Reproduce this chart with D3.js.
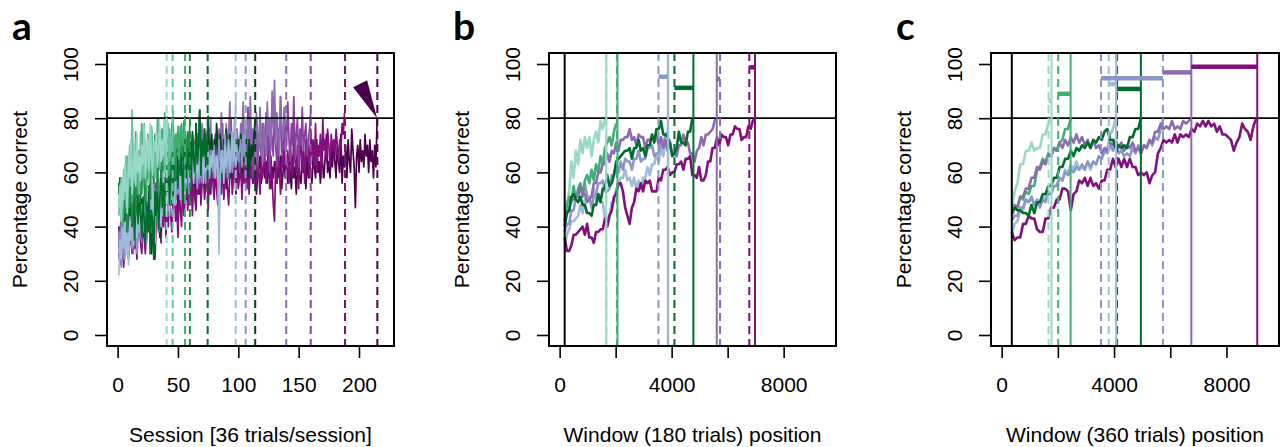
<!DOCTYPE html>
<html><head><meta charset="utf-8">
<script src="https://cdn.jsdelivr.net/npm/d3@7"></script>
<style>body{margin:0;background:#fff}</style></head>
<body>
<svg id="chart" width="1288" height="447"></svg>
<script>
// ---------- shared axis data ----------
const yTicks = [0, 20, 40, 60, 80, 100];
const criterion = 80;
const aTicksX = [0, 50, 100, 150, 200];
const bcTicksX = [0, 2000, 4000, 6000, 8000];
const bcLabelsX = [0, 4000, 8000];
const panelLetters = ["a", "b", "c"];
const xTitles = ["Session [36 trials/session]", "Window (180 trials) position", "Window (360 trials) position"];
const yTitle = "Percentage correct";

// ---------- panel a: percentage correct per session (session 1..N) ----------
const aLightTeal = [47,55,42,58,50,63,54,45,66,58,72,52,61,68,55,74,60,66,57,70,63,76,58,67,72,61,78,65,59,71,68,75,62,69,77,64,72,66,80,70,81];
const aTeal = [44,52,58,47,61,53,66,49,58,70,55,83,62,57,72,60,68,52,75,64,58,78,66,61,73,56,69,77,63,70,58,74,67,80,62,71,65,76,60,72,68,78,64,74,70,83];
const aGreen = [50,45,56,40,52,60,47,66,54,58,72,49,63,56,75,60,52,68,64,78,57,70,62,55,74,66,60,77,69,63,72,58,80,67,61,75,70,64,82,68,73,59,76,66,71,80,63,74,69,77,65,72,78,70,75,81];
const aMidGreen = [56,48,52,42,58,45,50,38,55,47,62,41,53,60,44,57,66,49,61,52,70,55,47,64,58,72,51,66,60,56,74,62,53,69,65,58,76,61,70,64,57,72,67,60,78,65,71,58,74,68,63,77,70,66,79,72,64,75,69,80];
const aDarkGreen = [52,58,46,55,49,42,56,38,50,44,57,40,52,35,48,54,41,58,45,36,51,43,33,49,38,55,30,46,42,28,53,44,58,39,50,62,47,56,44,60,53,66,48,58,63,51,69,57,62,54,72,59,66,50,64,75,58,68,61,71,56,74,65,60,78,63,70,83,59,72,66,76,62,70,81];
const aLightBlue = [22,35,28,40,32,45,30,38,26,42,35,48,33,40,45,36,50,38,44,48,40,52,36,46,55,42,50,38,56,46,34,52,44,58,48,40,54,62,46,56,50,60,44,56,62,52,48,64,58,54,66,50,60,56,64,52,58,68,60,54,62,66,56,70,60,64,58,68,62,72,56,66,60,64,70,58,66,62,68,64,58,66,62,30,60,68,64,56,70,62,66,72,60,68,75,64,70,88];
const aLavender = [30,38,25,42,34,28,40,36,30,44,38,32,46,36,40,30,48,42,36,44,38,46,40,34,50,42,48,38,52,44,40,54,46,38,50,56,44,52,48,58,52,46,56,60,50,54,62,48,58,52,60,56,50,64,58,54,62,66,52,60,56,64,58,62,68,54,60,66,58,64,70,60,56,66,62,58,68,64,60,70,62,66,58,72,64,60,68,62,74,66,58,70,64,68,60,72,66,62,70,64,68,72,62,74,66,80];
const aDeepGreen = [52,58,45,56,50,58,42,55,48,38,52,45,58,40,50,36,48,55,42,50,44,38,52,35,47,40,55,30,45,28,50,42,58,48,36,55,62,45,58,50,64,52,48,60,55,70,52,62,58,66,54,72,60,56,70,64,52,74,62,68,58,75,66,62,78,60,70,83,64,72,58,76,68,62,80,66,70,74,60,72,64,78,70,62,74,68,58,72,66,76,62,70,74,58,68,64,75,70,62,72,66,74,60,70,64,76,68,58,72,62,70,66,74,80];
const aPurple = [38,30,45,34,28,42,36,48,32,40,35,46,30,44,38,50,36,42,47,34,45,40,52,37,48,55,42,50,46,58,40,53,48,44,56,50,60,45,54,48,58,52,47,62,55,50,65,57,52,60,68,54,62,58,66,50,64,70,56,62,68,58,72,64,60,74,66,56,70,78,62,68,74,60,72,66,80,64,70,58,74,68,62,76,70,82,64,72,60,78,68,74,86,66,72,62,80,70,76,68,64,78,72,86,68,74,62,80,70,88,66,76,72,60,82,74,68,84,70,64,78,72,66,86,74,80,68,90,76,94,70,82,74,66,88,76,72,84,78,80];
const aViolet = [32,40,28,44,36,30,46,38,34,42,48,36,40,33,50,44,38,46,52,40,48,42,55,38,50,46,58,44,52,40,56,48,60,46,54,50,62,48,56,52,60,54,48,64,56,62,52,66,58,54,68,60,56,64,70,58,62,54,66,60,72,58,64,68,56,74,62,66,60,70,64,58,72,66,62,76,64,70,58,68,74,62,68,56,72,64,78,60,70,66,74,58,68,80,64,72,62,76,66,70,60,74,68,78,62,72,66,84,70,64,76,58,72,68,80,62,74,70,66,78,70,64,82,68,74,60,78,72,66,84,70,62,76,72,88,66,74,68,80,70,86,72,64,78,70,88,66,74,80,62,76,70,84,68,74,78,66,72,76,82];
const aMagenta = [30,26,38,32,25,36,30,42,28,34,38,30,44,32,36,28,40,46,34,30,42,36,30,44,38,48,33,40,36,46,28,42,50,38,44,34,48,40,54,36,46,40,52,44,38,50,56,42,48,36,54,46,40,58,44,50,62,46,52,48,56,44,60,50,46,58,52,64,48,56,60,50,54,62,46,58,52,66,56,50,60,54,48,62,56,52,66,50,58,62,54,48,60,64,52,58,68,56,62,54,58,64,50,62,56,68,54,60,52,66,58,62,56,70,54,64,60,52,66,58,62,68,56,60,72,54,66,58,48,42,64,56,70,60,52,66,62,74,58,64,68,56,72,62,58,76,64,60,70,54,66,74,60,68,56,72,64,70,58,76,66,72,62,78,60,70,66,74,58,80,68,72,64,76,70,62,74,68,72,66,76,70,64,72,68,78,74,82];
const aPlum = [40,34,46,30,38,44,36,42,32,48,38,44,36,40,46,34,50,42,38,46,44,50,38,48,42,54,40,46,52,44,48,56,42,50,46,54,48,44,52,58,50,46,56,52,48,58,54,50,60,46,56,52,62,48,58,54,50,60,56,52,62,54,58,50,60,64,56,52,62,58,66,54,60,56,64,58,52,62,68,56,60,66,54,62,58,64,56,68,60,54,64,58,62,66,56,60,64,52,62,58,66,60,56,64,58,62,54,60,66,58,62,56,64,60,52,58,62,66,56,60,62,58,64,56,60,66,54,62,58,64,60,56,62,58,66,54,60,64,58,62,56,64,60,54,66,58,62,52,60,64,58,56,66,60,62,54,68,58,64,60,56,66,62,58,72,60,64,56,70,62,58,66,74,60,64,58,68,62,72,64,58,70,64,60,74,56,66,62,70,58,72,64,60,76,68,62,47,66,70,60,72,64,68,62,74,66,70,60,72,64,68,58,70,62,80];
// draw order (bottom first) and dashed end-of-series markers (session)
const aSeries = [aPlum, aMagenta, aViolet, aPurple, aDeepGreen, aLavender, aLightBlue, aDarkGreen, aMidGreen, aGreen, aTeal, aLightTeal];
const aDashed = [215.2, 188.4, 160, 139.7, 114, 106.1, 97.8, 74.6, 59.9, 55.8, 45.6, 40.6];
const aArrowTip = [215, 80];

// ---------- panel b: 180-trial moving window ----------
const bStart = 180, bStep = 80;
const bTeal = [40,47,53,64,58,68,63,72,67,73,69,73,66,72,75,71,79,76,80,80];
const bGreen = [42,48,51,49,55,50,54,56,51,57,59,56,61,57,63,60,66,63,69,71,73,70,75,78];
const bDarkGreen = [40,45,46,51,52,50,49,51,48,48,45,45,44,48,48,52,49,54,54,59,55,56,59,64,65,66,67,68,68,69,65,69,69,72,68,69,66,70,70,74,71,76,76,79,74,74,73,71,66,67,69,75,71,71,70,75,75,80];
const bLightBlue = [33,37,39,42,42,43,44,48,45,50,50,51,51,54,50,50,49,49,43,43,44,49,49,54,55,58,58,61,57,58,55,58,54,57,54,58,58,62,59,63,63,67,64,69,66,71,72];
const bLavender = [38,41,41,46,46,51,51,55,52,56,51,51,47,51,52,56,56,57,53,53,54,59,59,63,60,64,61,65,64,64,61,65,65,68,64,65,65,69,69,70,66,67,67,71,70,74,75];
const bPurple = [42,45,46,50,50,51,51,55,52,52,49,50,51,56,56,60,60,63,63,67,64,68,67,71,68,72,72,73,73,76,72,73,70,74,73,73,69,72,72,73,73,74,70,73,69,72,68,71,67,67,66,70,70,74,71,71,67,67,64,68,69,73,70,74,74,75,76,79,80];
const bMagenta = [36,31,31,33,37,37,38,39,40,37,41,36,36,34,38,38,39,39,43,40,44,46,51,52,56,56,53,47,44,41,47,49,54,53,56,53,57,56,57,53,53,53,58,57,61,61,62,59,60,60,63,63,64,61,65,65,66,59,59,58,62,57,57,59,64,64,69,69,73,70,74,73,73,70,74,74,77,76,76,72,73,73,77,76,79,80];
const bSeries = [["teal", bTeal], ["lblue", bLightBlue], ["lav", bLavender], ["green", bGreen], ["purple", bPurple], ["mag", bMagenta], ["dgreen", bDarkGreen]];
const bDashed = [["teal",1665],["green",2045],["lav",3530],["dgreen",4100],["purple",5729],["mag",6774]];
const bSolid = [["teal",1665],["green",2065],["lav",3865],["lblue",3880],["dgreen",4777],["purple",5611],["mag",6977]];
const bBars = [["lav",3530,3865,95.3],["dgreen",4100,4777,91.2],["purple",5611,5729,94.5],["mag",6774,6977,98.8]];

// ---------- panel c: 360-trial moving window ----------
const cStart = 360, cStep = 100;
const cTeal = [47,53,56,63,63,68,68,71,68,69,69,74,74,78,79];
const cGreen = [46,48,47,51,50,53,52,55,55,61,62,65,64,67,66,69,68,71,72,76,76,80];
const cDarkGreen = [45,47,46,46,45,45,44,48,45,49,49,52,52,55,55,58,58,62,62,65,65,68,66,69,68,70,69,71,69,72,71,73,72,75,76,72,72,69,70,69,70,69,73,73,76,76,80];
const cLightBlue = [37,41,42,46,46,50,49,51,48,49,48,51,50,53,52,55,55,58,57,61,60,63,61,64,61,62,61,64,61,64,63,66,65,68,69,74,76,80];
const cLavender = [42,44,44,47,47,50,49,51,48,50,47,50,49,52,52,55,55,58,57,60,59,61,60,62,61,63,61,64,62,64,63,66,65,68,67,70,68,71,67,68,66,67,66,69,67,70,67,70,69,72,70,73,72,76,80];
const cPurple = [44,47,47,51,51,54,54,58,58,62,61,64,63,66,66,69,68,71,69,72,70,73,71,74,71,73,70,72,69,72,69,70,67,69,68,71,70,72,69,71,68,70,69,71,68,69,67,70,69,72,71,75,75,78,76,77,76,79,76,77,76,79,78,79,80];
const cMagenta = [38,35,36,36,41,41,44,43,43,39,38,38,43,43,47,47,50,50,54,54,53,46,52,53,57,56,58,55,58,55,56,54,57,57,61,61,65,62,65,62,65,62,65,62,62,59,60,59,60,56,59,60,67,69,72,71,72,71,74,71,74,73,74,73,76,75,78,77,79,77,79,77,78,75,77,74,74,73,72,68,71,73,78,76,75,72,77,80];
const cSeries = [["teal", cTeal], ["lblue", cLightBlue], ["lav", cLavender], ["green", cGreen], ["purple", cPurple], ["mag", cMagenta], ["dgreen", cDarkGreen]];
const cDashed = [["teal",1667],["green",2011],["lav",3536],["lblue",3810],["dgreen",4107],["lav",5739]];
const cSolid = [["teal",1775],["green",2453],["lblue",4071],["dgreen",4954],["purple",6750],["mag",9096]];
const cBars = [["teal",1667,1775,86.5],["green",2011,2453,89],["lblue",3810,4071,92.6],["lav",3536,5739,94.7],["dgreen",4107,4954,90.8],["purple",5739,6750,96.9],["mag",6750,9096,99]];

// ---------- styles ----------
const aColors = ["#4d004b","#810f7c","#88419d","#8c6bb1","#00441b","#8c96c6","#9ebcda","#006d2c","#238b45","#41ae76","#66c2a4","#99d8c9"];
const bcColor = {teal:"#99d8c9", green:"#41ae76", dgreen:"#006d2c", lblue:"#9ebcda", lav:"#8c96c6", purple:"#8c6bb1", mag:"#810f7c"};
const FONT = "'Liberation Sans', Arial, sans-serif";

const svg = d3.select("#chart");
svg.append("rect").attr("width",1288).attr("height",447).attr("fill","#fff");

const plotTop = 53, plotBottom = 346;
const y = d3.scaleLinear().domain([-4.06, 104.06]).range([plotBottom, plotTop]);

function frame(x, left, right, ticks, labels, letter, letterX, title) {
  const g = svg.append("g");
  const ya = g.append("g").attr("transform", `translate(${left},0)`)
    .call(d3.axisLeft(y).tickValues(yTicks).tickSize(12).tickSizeOuter(0));
  ya.select(".domain").remove();
  ya.selectAll("line").attr("stroke","#000").attr("stroke-width",1.6);
  ya.selectAll("text").attr("x",null).attr("dy",null).attr("text-anchor","middle")
    .attr("transform","translate(-29,0) rotate(-90)")
    .attr("font-family",FONT).attr("font-size",21).attr("fill","#000");
  const xa = g.append("g").attr("transform", `translate(0,${plotBottom})`)
    .call(d3.axisBottom(x).tickValues(ticks).tickSize(12).tickSizeOuter(0)
      .tickFormat(d => labels.includes(d) ? String(d) : ""));
  xa.select(".domain").remove();
  xa.selectAll("line").attr("stroke","#000").attr("stroke-width",1.6);
  xa.selectAll("text").attr("y",46).attr("dy",null)
    .attr("font-family",FONT).attr("font-size",21).attr("fill","#000");
  g.append("text").attr("transform",`translate(${left-80},${(plotTop+plotBottom)/2}) rotate(-90)`)
    .attr("text-anchor","middle").attr("font-family",FONT).attr("font-size",21).text(yTitle);
  g.append("text").attr("x",(left+right)/2).attr("y",442)
    .attr("text-anchor","middle").attr("font-family",FONT).attr("font-size",21).text(title);
  g.append("text").attr("x",letterX).attr("y",40)
    .attr("font-family","Lato, 'Open Sans', sans-serif").attr("font-weight",700)
    .attr("font-size",39).text(letter);
  return g;
}

function box(g, left, right) {
  g.append("rect").attr("x",left).attr("y",plotTop).attr("width",right-left).attr("height",plotBottom-plotTop)
    .attr("fill","none").attr("stroke","#000").attr("stroke-width",2);
}

function hline(g, x) {
  g.append("line").attr("x1",x.range()[0]).attr("x2",x.range()[1])
    .attr("y1",y(criterion)).attr("y2",y(criterion)).attr("stroke","#000").attr("stroke-width",1.8);
}

// ---------- panel a ----------
{
  const left = 107, right = 394;
  const x = d3.scaleLinear().domain([-8.8, 229]).range([left, right]);
  const g = frame(x, left, right, aTicksX, aTicksX, panelLetters[0], 12, xTitles[0]);
  const line = d3.line().x((d,i) => x(1 + i)).y(d => y(d));
  aSeries.forEach((s, k) => {
    g.append("path").attr("d", line(s)).attr("fill","none")
      .attr("stroke", aColors[k]).attr("stroke-width",1.7).attr("stroke-linejoin","round");
  });
  hline(g, x);
  aDashed.forEach((v, k) => {
    g.append("line").attr("x1",x(v)).attr("x2",x(v)).attr("y1",plotTop).attr("y2",plotBottom)
      .attr("stroke",aColors[k]).attr("stroke-width",2).attr("stroke-dasharray","8,5");
  });
  const tx = x(aArrowTip[0]), ty = y(aArrowTip[1]);
  g.append("path").attr("d",`M${tx},${ty} L${tx-24},${ty-31} L${tx-10},${ty-38} Z`).attr("fill","#4d004b");
  box(g, left, right);
}

function windowPanel(idx, left, right, start, step, series, dashed, solid, bars, letterX) {
  const x = d3.scaleLinear().domain([-380, 9870]).range([left, right]);
  const g = frame(x, left, right, bcTicksX, bcLabelsX, panelLetters[idx], letterX, xTitles[idx]);
  const line = d3.line().x((d,i) => x(start + i*step)).y(d => y(d));
  series.forEach(([key, s]) => {
    g.append("path").attr("d", line(s)).attr("fill","none")
      .attr("stroke", bcColor[key]).attr("stroke-width",2.6).attr("stroke-linejoin","round");
  });
  hline(g, x);
  g.append("line").attr("x1",x(start)).attr("x2",x(start)).attr("y1",plotTop).attr("y2",plotBottom)
    .attr("stroke","#000").attr("stroke-width",2);
  dashed.forEach(([key, v]) => {
    g.append("line").attr("x1",x(v)).attr("x2",x(v)).attr("y1",plotTop).attr("y2",plotBottom)
      .attr("stroke",bcColor[key]).attr("stroke-width",2).attr("stroke-dasharray","8,5");
  });
  solid.forEach(([key, v]) => {
    g.append("line").attr("x1",x(v)).attr("x2",x(v)).attr("y1",plotTop).attr("y2",plotBottom)
      .attr("stroke",bcColor[key]).attr("stroke-width",2);
  });
  bars.forEach(([key, a, b, v]) => {
    g.append("line").attr("x1",x(a)).attr("x2",x(b)).attr("y1",y(v)).attr("y2",y(v))
      .attr("stroke",bcColor[key]).attr("stroke-width",4.5);
  });
  box(g, left, right);
}

windowPanel(1, 549, 836, bStart, bStep, bSeries, bDashed, bSolid, bBars, 453);
windowPanel(2, 991, 1279, cStart, cStep, cSeries, cDashed, cSolid, cBars, 896);
</script>
</body></html>
